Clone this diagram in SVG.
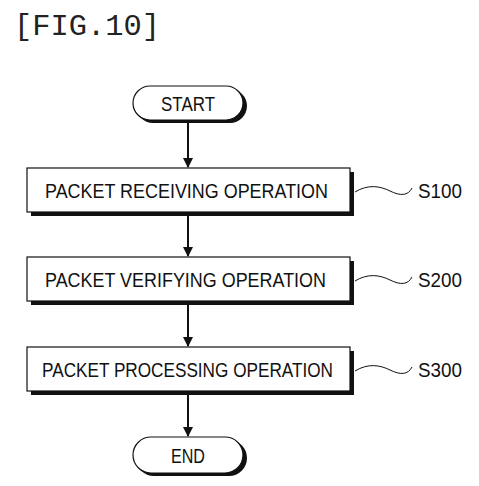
<svg xmlns="http://www.w3.org/2000/svg" width="479" height="486" viewBox="0 0 479 486">
<style>
.t{font-family:"Liberation Sans",Arial,sans-serif;font-size:21px;fill:#111}
.box{fill:#fff;stroke:#111;stroke-width:1.2}
.sh{fill:#111}
.ln{stroke:#111;stroke-width:2;fill:none}
.wv{stroke:#111;stroke-width:1;fill:none}
</style>
<defs>
<marker id="ah" markerWidth="10" markerHeight="12" refX="9" refY="5" orient="auto" markerUnits="userSpaceOnUse"><path d="M0,0 L10,5 L0,10 Z" fill="#111"/></marker>
</defs>
<rect width="479" height="486" fill="#fff"/>
<text x="14" y="35" font-family="Liberation Mono,Courier New,monospace" font-size="30" fill="#222" textLength="146" lengthAdjust="spacingAndGlyphs">[FIG.10]</text>
<g id="connectors">
<line class="ln" x1="188" y1="121" x2="188" y2="167" marker-end="url(#ah)"/>
<line class="ln" x1="188" y1="213" x2="188" y2="256" marker-end="url(#ah)"/>
<line class="ln" x1="188" y1="302" x2="188" y2="346" marker-end="url(#ah)"/>
<line class="ln" x1="188" y1="392" x2="188" y2="436" marker-end="url(#ah)"/>
</g>
<g id="start">
<rect class="sh" x="136" y="89" width="111" height="34" rx="17"/>
<rect class="box" x="133" y="86" width="110" height="34" rx="17"/>
<text class="t" x="188" y="111" text-anchor="middle" textLength="54" lengthAdjust="spacingAndGlyphs">START</text>
</g>
<g id="s100">
<rect class="sh" x="31" y="172" width="323" height="44"/>
<rect class="box" x="27" y="168" width="323" height="44"/>
<text class="t" x="45" y="198" textLength="283" lengthAdjust="spacingAndGlyphs">PACKET RECEIVING OPERATION</text>
<path class="wv" d="M355,192 C368,184 380,186 390,191 C400,196 408,196 412,188"/>
<text class="t" x="418" y="198" textLength="44" lengthAdjust="spacingAndGlyphs">S100</text>
</g>
<g id="s200">
<rect class="sh" x="31" y="261" width="323" height="44"/>
<rect class="box" x="27" y="257" width="323" height="44"/>
<text class="t" x="45" y="287" textLength="281" lengthAdjust="spacingAndGlyphs">PACKET VERIFYING OPERATION</text>
<path class="wv" d="M355,281 C368,273 380,275 390,280 C400,285 408,285 412,277"/>
<text class="t" x="418" y="287" textLength="44" lengthAdjust="spacingAndGlyphs">S200</text>
</g>
<g id="s300">
<rect class="sh" x="31" y="351" width="323" height="44"/>
<rect class="box" x="27" y="347" width="323" height="44"/>
<text class="t" x="42" y="377" textLength="291" lengthAdjust="spacingAndGlyphs">PACKET PROCESSING OPERATION</text>
<path class="wv" d="M355,371 C368,363 380,365 390,370 C400,375 408,375 412,367"/>
<text class="t" x="418" y="377" textLength="44" lengthAdjust="spacingAndGlyphs">S300</text>
</g>
<g id="end">
<rect class="sh" x="136" y="440" width="111" height="36" rx="18"/>
<rect class="box" x="133" y="437" width="110" height="36" rx="18"/>
<text class="t" x="188" y="463" text-anchor="middle" textLength="34" lengthAdjust="spacingAndGlyphs">END</text>
</g>
</svg>
